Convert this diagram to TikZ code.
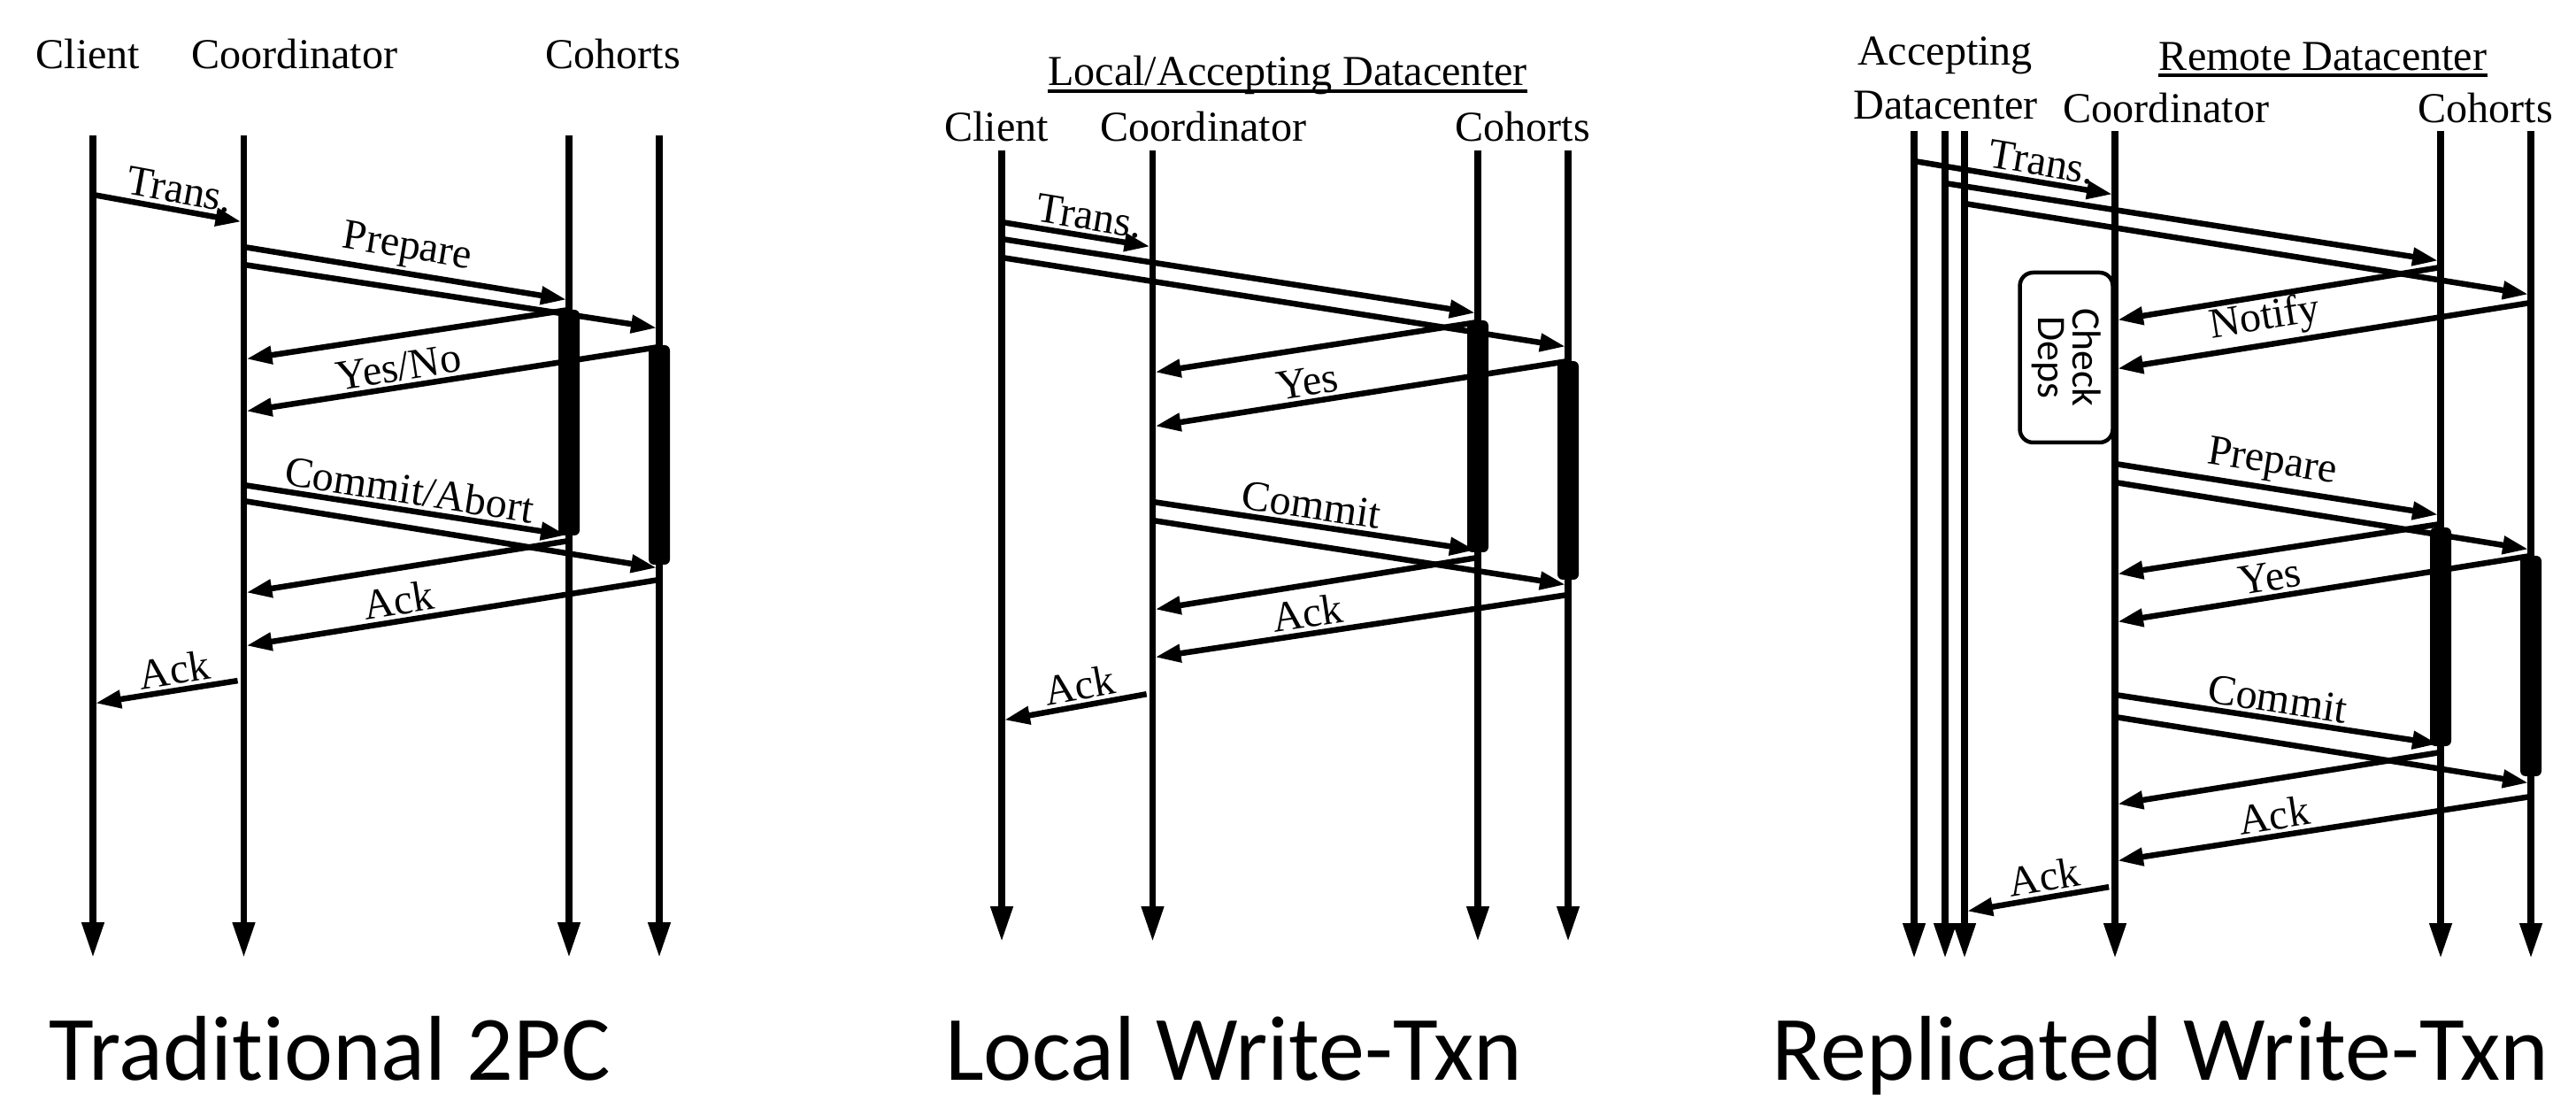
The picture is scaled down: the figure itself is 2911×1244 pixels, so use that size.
\documentclass[tikz,border=0pt]{standalone}
\usepackage{fontspec}
\setmainfont{Liberation Serif}
\newfontfamily\capfont[Ligatures=NoCommon]{Carlito}
\usetikzlibrary{arrows.meta,calc}

\newcommand\txtsz{\fontsize{13.7}{16}\selectfont}

\begin{document}
\begin{tikzpicture}[x=0.1mm, y=-0.1mm,
    life/.style={line width=0.75mm, -{Triangle[length=4mm,width=2.4mm]}},
    msg/.style={line width=0.65mm, shorten >=0.3mm, -{Triangle[length=2.9mm,width=1.95mm]}},
    lbl/.style={font=\txtsz, sloped, above, inner sep=1pt},
    hdr/.style={font=\txtsz, anchor=base, inner sep=0pt},
    bar/.style={rounded corners=0.6mm},
    chkbox/.style={draw, line width=0.45mm, rounded corners=1.5mm, rotate=-90,
        minimum width=19.2mm, minimum height=10.5mm, inner sep=0pt, align=center,
        font=\capfont\fontsize{13}{11.3}\selectfont},
    caption/.style={font=\capfont\fontsize{29.6}{34}\selectfont, anchor=base, inner sep=0pt}]
\useasboundingbox (0,0) rectangle (2911,1244);

%% traditional 2PC
\node[hdr] (tc-client) at (99.5,78) {Client};
\node[hdr] (tc-coord) at (333,78) {Coordinator};
\node[hdr] (tc-cohorts) at (692.5,78) {Cohorts};
\coordinate (tc-cl) at (105,153);
\coordinate (tc-co) at (275.5,153);
\coordinate (tc-h1) at (643,153);
\coordinate (tc-h2) at (745,153);
\draw[life] (tc-cl) -- (tc-cl |- 0,1082);
\draw[life] (tc-co) -- (tc-co |- 0,1082);
\draw[life] (tc-h1) -- (tc-h1 |- 0,1082);
\draw[life] (tc-h2) -- (tc-h2 |- 0,1082);
\fill[bar] ($(tc-h1 |- 0,350)+(-12,0)$) rectangle ($(tc-h1 |- 0,605)+(12,0)$);
\fill[bar] ($(tc-h2 |- 0,390)+(-12,0)$) rectangle ($(tc-h2 |- 0,638)+(12,0)$);

\draw[msg] (tc-cl |- 0,220) -- node[lbl, pos=.55] {Trans.} (tc-co |- 0,251);
\draw[msg] (tc-co |- 0,279) -- node[lbl, pos=.49] {Prepare} (tc-h1 |- 0,339);
\draw[msg] (tc-co |- 0,299) -- (tc-h2 |- 0,371);
\draw[msg] (tc-h1 |- 0,350) -- (tc-co |- 0,406);
\draw[msg] (tc-h2 |- 0,392) -- node[lbl, pos=.62] {Yes/No} (tc-co |- 0,465);
\draw[msg] (tc-co |- 0,548) -- node[lbl, pos=.5] {Commit/Abort} (tc-h1 |- 0,605);
\draw[msg] (tc-co |- 0,566) -- (tc-h2 |- 0,642);
\draw[msg] (tc-h1 |- 0,611) -- (tc-co |- 0,670);
\draw[msg] (tc-h2 |- 0,655) -- node[lbl, pos=.62] {Ack} (tc-co |- 0,730);
\draw[msg, shorten <=0.7mm] (tc-co |- 0,768) -- node[lbl, pos=.44] {Ack} (tc-cl |- 0,795);

\node[caption] (tc-title) at (373,1220) {Traditional 2PC};

%% local write-txn
\node[hdr] (lw-dc) at (1455,97) {Local/Accepting Datacenter};
\draw[line width=0.38mm] ([yshift=-1.7pt]lw-dc.base west) -- ([yshift=-1.7pt]lw-dc.base east);
\node[hdr] (lw-client) at (1126,160) {Client};
\node[hdr] (lw-coord) at (1360,160) {Coordinator};
\node[hdr] (lw-cohorts) at (1720.5,160) {Cohorts};
\coordinate (lw-cl) at (1132,170);
\coordinate (lw-co) at (1302.5,170);
\coordinate (lw-h1) at (1670,170);
\coordinate (lw-h2) at (1772,170);
\draw[life] (lw-cl) -- (lw-cl |- 0,1064);
\draw[life] (lw-co) -- (lw-co |- 0,1064);
\draw[life] (lw-h1) -- (lw-h1 |- 0,1064);
\draw[life] (lw-h2) -- (lw-h2 |- 0,1064);
\fill[bar] ($(lw-h1 |- 0,362)+(-12,0)$) rectangle ($(lw-h1 |- 0,624)+(12,0)$);
\fill[bar] ($(lw-h2 |- 0,408)+(-12,0)$) rectangle ($(lw-h2 |- 0,655)+(12,0)$);

\draw[msg] (lw-cl |- 0,251) -- node[lbl, pos=.56] {Trans.} (lw-co |- 0,279);
\draw[msg] (lw-cl |- 0,270) -- (lw-h1 |- 0,354);
\draw[msg] (lw-cl |- 0,291) -- (lw-h2 |- 0,392);
\draw[msg] (lw-h1 |- 0,364) -- (lw-co |- 0,421);
\draw[msg] (lw-h2 |- 0,408) -- node[lbl, pos=.62] {Yes} (lw-co |- 0,482);
\draw[msg] (lw-co |- 0,567) -- node[lbl, pos=.48] {Commit} (lw-h1 |- 0,622);
\draw[msg] (lw-co |- 0,588) -- (lw-h2 |- 0,661);
\draw[msg] (lw-h1 |- 0,630) -- (lw-co |- 0,689);
\draw[msg] (lw-h2 |- 0,672) -- node[lbl, pos=.62] {Ack} (lw-co |- 0,743);
\draw[msg, shorten <=0.7mm] (lw-co |- 0,783) -- node[lbl, pos=.46] {Ack} (lw-cl |- 0,814);

\node[caption] (lw-title) at (1394,1220) {Local Write-Txn};

%% replicated write-txn
\node[hdr] (rw-acc) at (2198,74) {Accepting};
\node[hdr] (rw-accdc) at (2198.5,135) {Datacenter};
\node[hdr] (rw-dc) at (2625,80) {Remote Datacenter};
\draw[line width=0.38mm] ([yshift=-1.5pt]rw-dc.base west) -- ([yshift=-1.5pt]rw-dc.base east);
\node[hdr] (rw-coord) at (2448,139) {Coordinator};
\node[hdr] (rw-cohorts) at (2808.5,139) {Cohorts};
\coordinate (rw-a1) at (2163,148);
\coordinate (rw-a2) at (2198,148);
\coordinate (rw-a3) at (2220,148);
\coordinate (rw-co) at (2390,148);
\coordinate (rw-h1) at (2758,148);
\coordinate (rw-h2) at (2860,148);
\draw[life] (rw-a1) -- (rw-a1 |- 0,1083);
\draw[life] (rw-a2) -- (rw-a2 |- 0,1083);
\draw[life] (rw-a3) -- (rw-a3 |- 0,1083);
\draw[life] (rw-co) -- (rw-co |- 0,1083);
\draw[life] (rw-h1) -- (rw-h1 |- 0,1083);
\draw[life] (rw-h2) -- (rw-h2 |- 0,1083);
\fill[bar] ($(rw-h1 |- 0,596)+(-12,0)$) rectangle ($(rw-h1 |- 0,843)+(12,0)$);
\fill[bar] ($(rw-h2 |- 0,628)+(-12,0)$) rectangle ($(rw-h2 |- 0,877)+(12,0)$);

\node[chkbox] (rw-check) at (2335,404) {Check\\Deps};

\draw[msg] (rw-a1 |- 0,182) -- node[lbl, pos=.62] {Trans.} (rw-co |- 0,220);
\draw[msg] (rw-a2 |- 0,207) -- (rw-h1 |- 0,295);
\draw[msg] (rw-a3 |- 0,230) -- (rw-h2 |- 0,333);
\draw[msg] (rw-h1 |- 0,302) -- (rw-co |- 0,362);
\draw[msg] (rw-h2 |- 0,342) -- node[lbl, pos=.63] {Notify} (rw-co |- 0,417);
\draw[msg] (rw-co |- 0,524) -- node[lbl, pos=.47] {Prepare} (rw-h1 |- 0,582);
\draw[msg] (rw-co |- 0,545) -- (rw-h2 |- 0,621);
\draw[msg] (rw-h1 |- 0,592) -- (rw-co |- 0,649);
\draw[msg] (rw-h2 |- 0,628) -- node[lbl, pos=.62] {Yes} (rw-co |- 0,703);
\draw[msg] (rw-co |- 0,785) -- node[lbl, pos=.49] {Commit} (rw-h1 |- 0,841);
\draw[msg] (rw-co |- 0,810) -- (rw-h2 |- 0,885);
\draw[msg] (rw-h1 |- 0,850) -- (rw-co |- 0,909);
\draw[msg] (rw-h2 |- 0,900) -- node[lbl, pos=.61] {Ack} (rw-co |- 0,973);
\draw[msg, shorten <=0.7mm] (rw-co |- 0,1001) -- node[lbl, pos=.45] {Ack} (rw-a3 |- 0,1030);

\node[caption] (rw-title) at (2441.5,1220) {Replicated Write-Txn};
\end{tikzpicture}
\end{document}
